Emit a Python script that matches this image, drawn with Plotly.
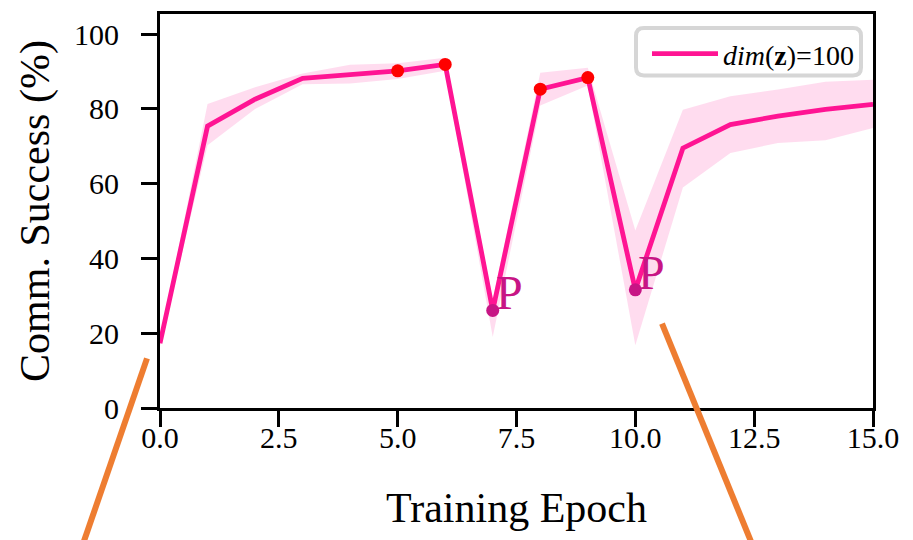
import plotly.graph_objects as go

# Communication success over training epochs (mean and spread across runs)
epochs = list(range(16))
success_mean = [17.3, 75.4, 82.6, 88.2, 89.2, 90.2, 91.9, 26.1, 85.3, 88.4, 31.6, 69.5, 75.8, 78.1, 79.9, 81.2]
success_low = [16.5, 70.3, 80.0, 86.6, 86.8, 88.0, 90.2, 19.0, 80.9, 86.3, 16.8, 59.0, 68.2, 70.9, 71.6, 74.9]
success_high = [18.2, 81.3, 85.8, 89.5, 91.8, 92.2, 93.7, 29.0, 89.7, 91.0, 47.5, 79.8, 83.4, 85.2, 87.3, 87.8]

# Epochs highlighted with red dots, and the perturbation epochs marked "P"
highlight_epochs = [5, 6, 8, 9]
perturb_epochs = [7, 10]

x_ticks = [0, 2.5, 5, 7.5, 10, 12.5, 15]
y_ticks = [0, 20, 40, 60, 80, 100]

SERIF = "Liberation Serif, Times New Roman, serif"
PINK = "#FF1493"
BAND = "rgba(255,20,147,0.15)"
VIOLET = "#C71585"
ORANGE = "#EE7D31"

W, H = 913, 540
L, R, T, B = 160, 40, 11, 132
PW, PH = W - L - R, H - T - B


def px(xp):
    return (xp - L) / PW


def py(yp):
    return (H - B - yp) / PH


fig = go.Figure()

# shaded spread band
fig.add_trace(go.Scatter(
    x=epochs + epochs[::-1],
    y=success_high + success_low[::-1],
    fill="toself", fillcolor=BAND, line=dict(width=0),
    hoverinfo="skip", showlegend=False,
))

# mean curve
fig.add_trace(go.Scatter(
    x=epochs, y=success_mean, mode="lines",
    line=dict(color=PINK, width=4.8),
    name="<i>dim</i>(<b>z</b>)=100",
))

fig.add_trace(go.Scatter(
    x=highlight_epochs,
    y=[success_mean[e] for e in highlight_epochs],
    mode="markers", marker=dict(color="red", size=13),
    showlegend=False,
))

fig.add_trace(go.Scatter(
    x=perturb_epochs,
    y=[success_mean[e] for e in perturb_epochs],
    mode="markers", marker=dict(color=VIOLET, size=13),
    showlegend=False,
))

for e in perturb_epochs:
    fig.add_annotation(
        x=e, y=success_mean[e], text="P", showarrow=False,
        xanchor="left", yanchor="bottom", xshift=1, yshift=-11,
        font=dict(family=SERIF, size=48, color=VIOLET),
    )

shapes = [
    # rounded legend frame
    dict(
        type="path", xref="paper", yref="paper", layer="above",
        path=(
            f"M {px(644)},{py(25)} L {px(853)},{py(25)} "
            f"Q {px(861)},{py(25)} {px(861)},{py(33)} "
            f"L {px(861)},{py(65)} Q {px(861)},{py(73)} {px(853)},{py(73)} "
            f"L {px(644)},{py(73)} Q {px(636)},{py(73)} {px(636)},{py(65)} "
            f"L {px(636)},{py(33)} Q {px(636)},{py(25)} {px(644)},{py(25)} Z"
        ),
        line=dict(color="#D6D6D6", width=4), fillcolor="rgba(255,255,255,0.8)",
    ),
    # zoom connector lines
    dict(type="line", xref="paper", yref="paper", layer="above",
         x0=px(147), y0=py(358), x1=px(83), y1=py(545),
         line=dict(color=ORANGE, width=6)),
    dict(type="line", xref="paper", yref="paper", layer="above",
         x0=px(662), y0=py(323), x1=px(752), y1=py(545),
         line=dict(color=ORANGE, width=6)),
]

fig.update_layout(
    width=W, height=H,
    margin=dict(l=L, r=R, t=T, b=B),
    paper_bgcolor="white", plot_bgcolor="white",
    font=dict(family=SERIF, color="black", size=30),
    shapes=shapes,
    showlegend=True,
    legend=dict(
        x=px(647), y=py(26), xanchor="left", yanchor="top",
        bgcolor="rgba(0,0,0,0)", borderwidth=0,
        font=dict(family=SERIF, size=28, color="black"),
        itemwidth=66,
    ),
    xaxis=dict(
        range=[0, 15], tickvals=x_ticks, tickformat=".1f",
        showgrid=False, zeroline=False,
        showline=True, linecolor="black", linewidth=3, mirror=True,
        ticks="outside", ticklen=16, tickwidth=3, tickcolor="black",
        tickfont=dict(size=30), ticklabelstandoff=-15,
        title=dict(text="Training Epoch", font=dict(size=42), standoff=40),
    ),
    yaxis=dict(
        range=[0, 105.4], tickvals=y_ticks,
        showgrid=False, zeroline=False,
        showline=True, linecolor="black", linewidth=3, mirror=True,
        ticks="outside", ticklen=16, tickwidth=3, tickcolor="black",
        tickfont=dict(size=30), ticklabelstandoff=16,
        title=dict(text="Comm. Success (%)", font=dict(size=42), standoff=12),
    ),
)

fig.write_html("out.html")
